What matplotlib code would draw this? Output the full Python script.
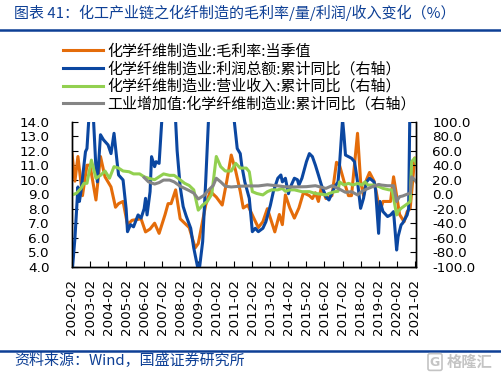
import numpy as np
import pandas as pd
import matplotlib
matplotlib.use('Agg')
import matplotlib.pyplot as plt
import matplotlib.dates as mdates
from matplotlib.ticker import FormatStrFormatter
from matplotlib.font_manager import FontProperties
from matplotlib.lines import Line2D

plt.rcParams['font.family'] = 'DejaVu Sans'
plt.rcParams['axes.unicode_minus'] = False

# 毛利率:当季值 (left axis)
margin_dates = ['2002-02', '2002-04', '2002-06', '2002-09', '2002-12', '2003-02', '2003-06', '2003-09',
                '2003-12', '2004-04', '2004-07', '2004-09', '2004-12', '2005-03', '2005-06', '2005-12',
                '2006-03', '2006-06', '2006-09', '2006-12', '2007-04', '2007-06', '2007-08', '2007-11',
                '2008-02', '2008-06', '2008-08', '2008-12', '2009-02', '2009-07', '2009-10', '2010-02',
                '2010-06', '2010-09', '2010-12', '2011-03', '2011-06', '2011-08', '2011-11', '2012-03',
                '2012-06', '2012-09', '2012-12', '2013-05', '2013-08', '2013-10', '2013-12', '2014-03',
                '2014-06', '2014-09', '2014-12', '2015-04', '2015-06', '2015-08', '2015-10', '2015-12',
                '2016-03', '2016-07', '2016-10', '2016-12', '2017-03', '2017-06', '2017-08', '2017-12',
                '2018-02', '2018-04', '2018-06', '2018-08', '2018-11', '2018-12', '2019-03', '2019-05',
                '2019-08', '2019-10', '2019-12', '2020-02', '2020-04', '2020-07', '2020-09', '2020-11',
                '2021-02', '2021-03']
margin = [11.8, 9.9, 11.6, 8.9, 11.0, 11.0, 8.6, 11.6,
          10.2, 9.5, 8.1, 8.35, 8.5, 6.9, 7.2, 7.3,
          6.4, 6.6, 7.0, 6.3, 7.6, 8.35, 8.35, 9.3,
          7.3, 6.9, 6.7, 5.3, 5.6, 8.25, 9.2, 8.8,
          8.25, 9.9, 11.7, 10.6, 9.2, 8.05, 8.25, 7.35,
          6.7, 7.1, 8.0, 6.4, 7.6, 6.9, 8.95, 8.05,
          7.35, 8.05, 9.1, 8.9, 8.7, 9.1, 8.5, 9.5,
          8.7, 8.9, 11.2, 11.0, 9.9, 8.9, 8.9, 13.2,
          9.9, 8.9, 10.0, 10.5, 9.9, 9.4, 7.8, 8.5,
          8.5, 8.5, 10.2, 8.9, 7.6, 7.1, 7.8, 8.0,
          11.5, 11.2]

# 利润总额:累计同比 (right axis)
profit_dates = ['2002-02', '2002-04', '2002-06', '2002-07', '2002-08', '2002-10', '2002-11', '2002-12',
                '2003-03', '2003-06', '2003-07', '2003-09', '2003-11', '2004-02', '2004-04', '2004-06',
                '2004-08', '2004-09', '2004-12', '2005-02', '2005-03', '2005-05', '2005-07', '2005-10',
                '2005-12', '2006-02', '2006-03', '2006-04', '2006-06', '2006-07', '2006-09', '2006-10',
                '2006-12', '2007-02', '2007-06', '2007-11', '2007-12', '2008-02', '2008-04', '2008-06',
                '2008-09', '2008-11', '2009-02', '2009-03', '2009-05', '2009-07', '2009-09', '2009-12',
                '2010-05', '2010-11', '2011-02', '2011-04', '2011-06', '2011-07', '2011-09', '2011-12',
                '2012-02', '2012-04', '2012-06', '2012-09', '2012-11', '2013-02', '2013-04', '2013-07',
                '2013-09', '2013-10', '2013-12', '2014-02', '2014-03', '2014-06', '2014-08', '2014-09',
                '2014-11', '2015-02', '2015-04', '2015-06', '2015-08', '2015-10', '2015-12', '2016-03',
                '2016-05', '2016-07', '2016-09', '2016-11', '2016-12', '2017-02', '2017-03', '2017-04',
                '2017-06', '2017-08', '2017-10', '2017-12', '2018-02', '2018-04', '2018-06', '2018-08',
                '2018-11', '2018-12', '2019-02', '2019-03', '2019-05', '2019-08', '2019-10', '2019-12',
                '2020-02', '2020-03', '2020-05', '2020-06', '2020-09', '2020-10', '2020-11', '2020-12',
                '2021-02']
profit = [-110, -61, 10, -10, 3.5, 40, 58.6, 63,
          160, 36, 17, 82, 75, 68, 56, 84,
          45, 26.5, 19.6, -20, -51.7, -42, -45, -28.6,
          -33, -20, -5.7, -28.6, 3.5, 51.8, 38, 44.8,
          42.5, 110, 180, 100, 60, 10, -17, -30,
          -47, -74, -105, -100, -65.5, 17, 110, 200,
          220, 140, 100, 63, 56, 40, 17, -5.7,
          -51.7, -47, -51.7, -47, -38, -15, 3.5, 22,
          26.5, 17, 22, 0.7, 8, 22, 20, 12.6,
          22, 45, 56, 51.8, 40, 26.5, 12.6, -3.4,
          -8, 1.6, 10.7, 17, 40, 103, 81.7, 54,
          51.8, 49.6, 44.8, 17, -19.5, -5.7, 17, 22,
          17, 6, -54, -10, -24, -30.8, -28.6, -24,
          -77, -58.6, -42.4, -40, -28.6, -19.5, 150, 300,
          400]

# 营业收入:累计同比 (right axis)
revenue_dates = ['2002-02', '2002-05', '2002-08', '2002-10', '2002-12', '2003-03', '2003-06', '2003-09',
                 '2003-12', '2004-03', '2004-06', '2004-09', '2004-12', '2005-04', '2005-07', '2005-11',
                 '2006-02', '2006-05', '2006-09', '2006-12', '2007-03', '2007-07', '2007-10', '2007-12',
                 '2008-05', '2008-08', '2008-11', '2009-02', '2009-05', '2009-08', '2009-11', '2010-02',
                 '2010-05', '2010-08', '2010-12', '2011-03', '2011-06', '2011-10', '2011-12', '2012-02',
                 '2012-05', '2012-09', '2012-12', '2013-03', '2013-07', '2013-10', '2013-12', '2014-03',
                 '2014-06', '2014-11', '2015-04', '2015-08', '2015-12', '2016-03', '2016-05', '2016-09',
                 '2016-11', '2016-12', '2017-03', '2017-06', '2017-09', '2017-12', '2018-03', '2018-05',
                 '2018-07', '2018-11', '2019-02', '2019-05', '2019-09', '2019-11', '2020-02', '2020-03',
                 '2020-05', '2020-08', '2020-10', '2020-11', '2020-12', '2021-02', '2021-03']
revenue = [-1, 1.2, 8, 15, 15, 47, 22, 26,
           32, 22, 38, 36, 32, 31, 28, 28,
           24, 22, 20, 24, 28, 26, 26, 23,
           15, 12, 6, -22, -15, -10, 0, 52,
           38, 32, 32, 42.6, 36, 36, 31, 3.5,
           1, -1, 3.5, 6, 6, 8, 4, 6,
           6, 3.5, 3.5, 1, 0, -1, 1, 3.5,
           4, 17, 12.6, 15, 12.6, 15, 12.6, 17,
           12.6, 12.6, 10.7, 8, 6, 6, -28.6, -24,
           -19.5, -15, -12, -10, 45, 49.6, 42.6]

# 工业增加值:化学纤维制造业:累计同比 (right axis)
iva_dates = ['2006-02', '2006-05', '2006-09', '2006-12', '2007-03', '2007-07', '2007-10', '2008-02',
             '2008-05', '2008-08', '2008-11', '2009-02', '2009-06', '2009-09', '2009-12', '2010-02',
             '2010-05', '2010-08', '2010-12', '2011-06', '2011-11', '2012-06', '2012-12', '2013-07',
             '2013-12', '2014-07', '2015-02', '2015-08', '2016-03', '2016-07', '2016-11', '2017-04',
             '2017-08', '2017-12', '2018-03', '2018-06', '2018-10', '2019-02', '2019-04', '2019-08',
             '2019-12', '2020-02', '2020-04', '2020-06', '2020-09', '2020-11', '2020-12', '2021-02',
             '2021-03']
iva = [23, 17, 14, 16, 19.5, 19.5, 17, 11,
       8, 5, 1.5, -6.6, -1.4, 6, 12, 22,
       17, 11, 10, 11, 11.4, 11.4, 13, 11.5,
       10.2, 10, 10.4, 11.7, 8, 11.7, 8, 2.6,
       3.5, -1, 4, 7, 10.4, 13.5, 12.6, 11.7,
       11.7, -10, -3.4, -2.5, 0, 1.3, 24, 19.6,
       17]

labels = ['化学纤维制造业:毛利率:当季值',
          '化学纤维制造业:利润总额:累计同比（右轴）',
          '化学纤维制造业:营业收入:累计同比（右轴）',
          '工业增加值:化学纤维制造业:累计同比（右轴）']
colors = ['#E46C0A', '#0B47A1', '#92D050', '#858585']

cjk = ['Noto Sans CJK SC', 'DejaVu Sans']
navy = '#0D3F95'

W, H = 502, 378
fig = plt.figure(figsize=(W / 100, H / 100), dpi=100)
ax = fig.add_axes([72 / W, 1 - 266.7 / H, (415.7 - 72) / W, (266.7 - 121.7) / H])
ax2 = ax.twinx()

l1, = ax.plot(pd.to_datetime(margin_dates), margin, color=colors[0], lw=2.2)
l2, = ax2.plot(pd.to_datetime(profit_dates), profit, color=colors[1], lw=2.2)
l3, = ax2.plot(pd.to_datetime(revenue_dates), revenue, color=colors[2], lw=2.2)
l4, = ax2.plot(pd.to_datetime(iva_dates), iva, color=colors[3], lw=2.2)

ax.set_xlim(pd.Timestamp('2002-02-01'), pd.Timestamp('2021-02-21'))
ax.set_ylim(4, 14)
ax.set_yticks(np.arange(4, 14.1, 1))
ax.yaxis.set_major_formatter(FormatStrFormatter('%.1f'))
ax2.set_ylim(-100, 100)
ax2.set_yticks(np.arange(-100, 101, 20))
ax2.yaxis.set_major_formatter(FormatStrFormatter('%.1f'))

ax.xaxis.set_major_locator(mdates.MonthLocator(bymonth=2))
ax.xaxis.set_major_formatter(mdates.DateFormatter('%Y-%m'))
for lab in ax.get_xticklabels():
    lab.set_rotation(90)

for a in (ax, ax2):
    a.spines['top'].set_visible(False)
    for s in a.spines.values():
        s.set_linewidth(1.0)
ax.tick_params(axis='x', direction='in', length=4, width=0.8, pad=9, labelsize=9.7)
ax.tick_params(axis='y', direction='in', length=4, width=0.8, pad=16, labelsize=9.7)
ax2.tick_params(axis='y', direction='in', length=4, width=0.8, pad=12, labelsize=9.7)

fig.legend([l1, l2, l3, l4], labels, loc='upper left', bbox_to_anchor=(63 / W, 1 - 44 / H),
           frameon=False, prop=FontProperties(family=cjk, size=10.8), handlelength=2.67,
           handletextpad=0.27, labelspacing=0.2, borderpad=0, borderaxespad=0)

# header / footer
fig.text(14 / W, 1 - 13 / H, '图表 41：化工产业链之化纤制造的毛利率/量/利润/收入变化（%）',
         family=cjk, fontsize=10.8, color=navy, style='italic', va='center')
fig.add_artist(Line2D([0, 1], [1 - 30 / H] * 2, transform=fig.transFigure, color=navy, lw=1.8))
fig.add_artist(Line2D([0, 1], [1 - 351 / H] * 2, transform=fig.transFigure, color=navy, lw=1.8))
fig.text(14 / W, 1 - 361 / H, '资料来源：Wind，国盛证券研究所', family=cjk, fontsize=10.8,
         color=navy, style='italic', va='center')
fig.text(470 / W, 1 - 362 / H, '格隆汇', family=cjk, fontsize=11, color='#c4c4c4',
         fontweight='bold', va='center', ha='center')
fig.text(435 / W, 1 - 362 / H, 'G', fontsize=9, color='#c4c4c4', fontweight='bold',
         va='center', ha='center',
         bbox=dict(boxstyle='round,pad=0.15', fc='none', ec='#c4c4c4', lw=1.2))

fig.savefig('out.png', dpi=100)
